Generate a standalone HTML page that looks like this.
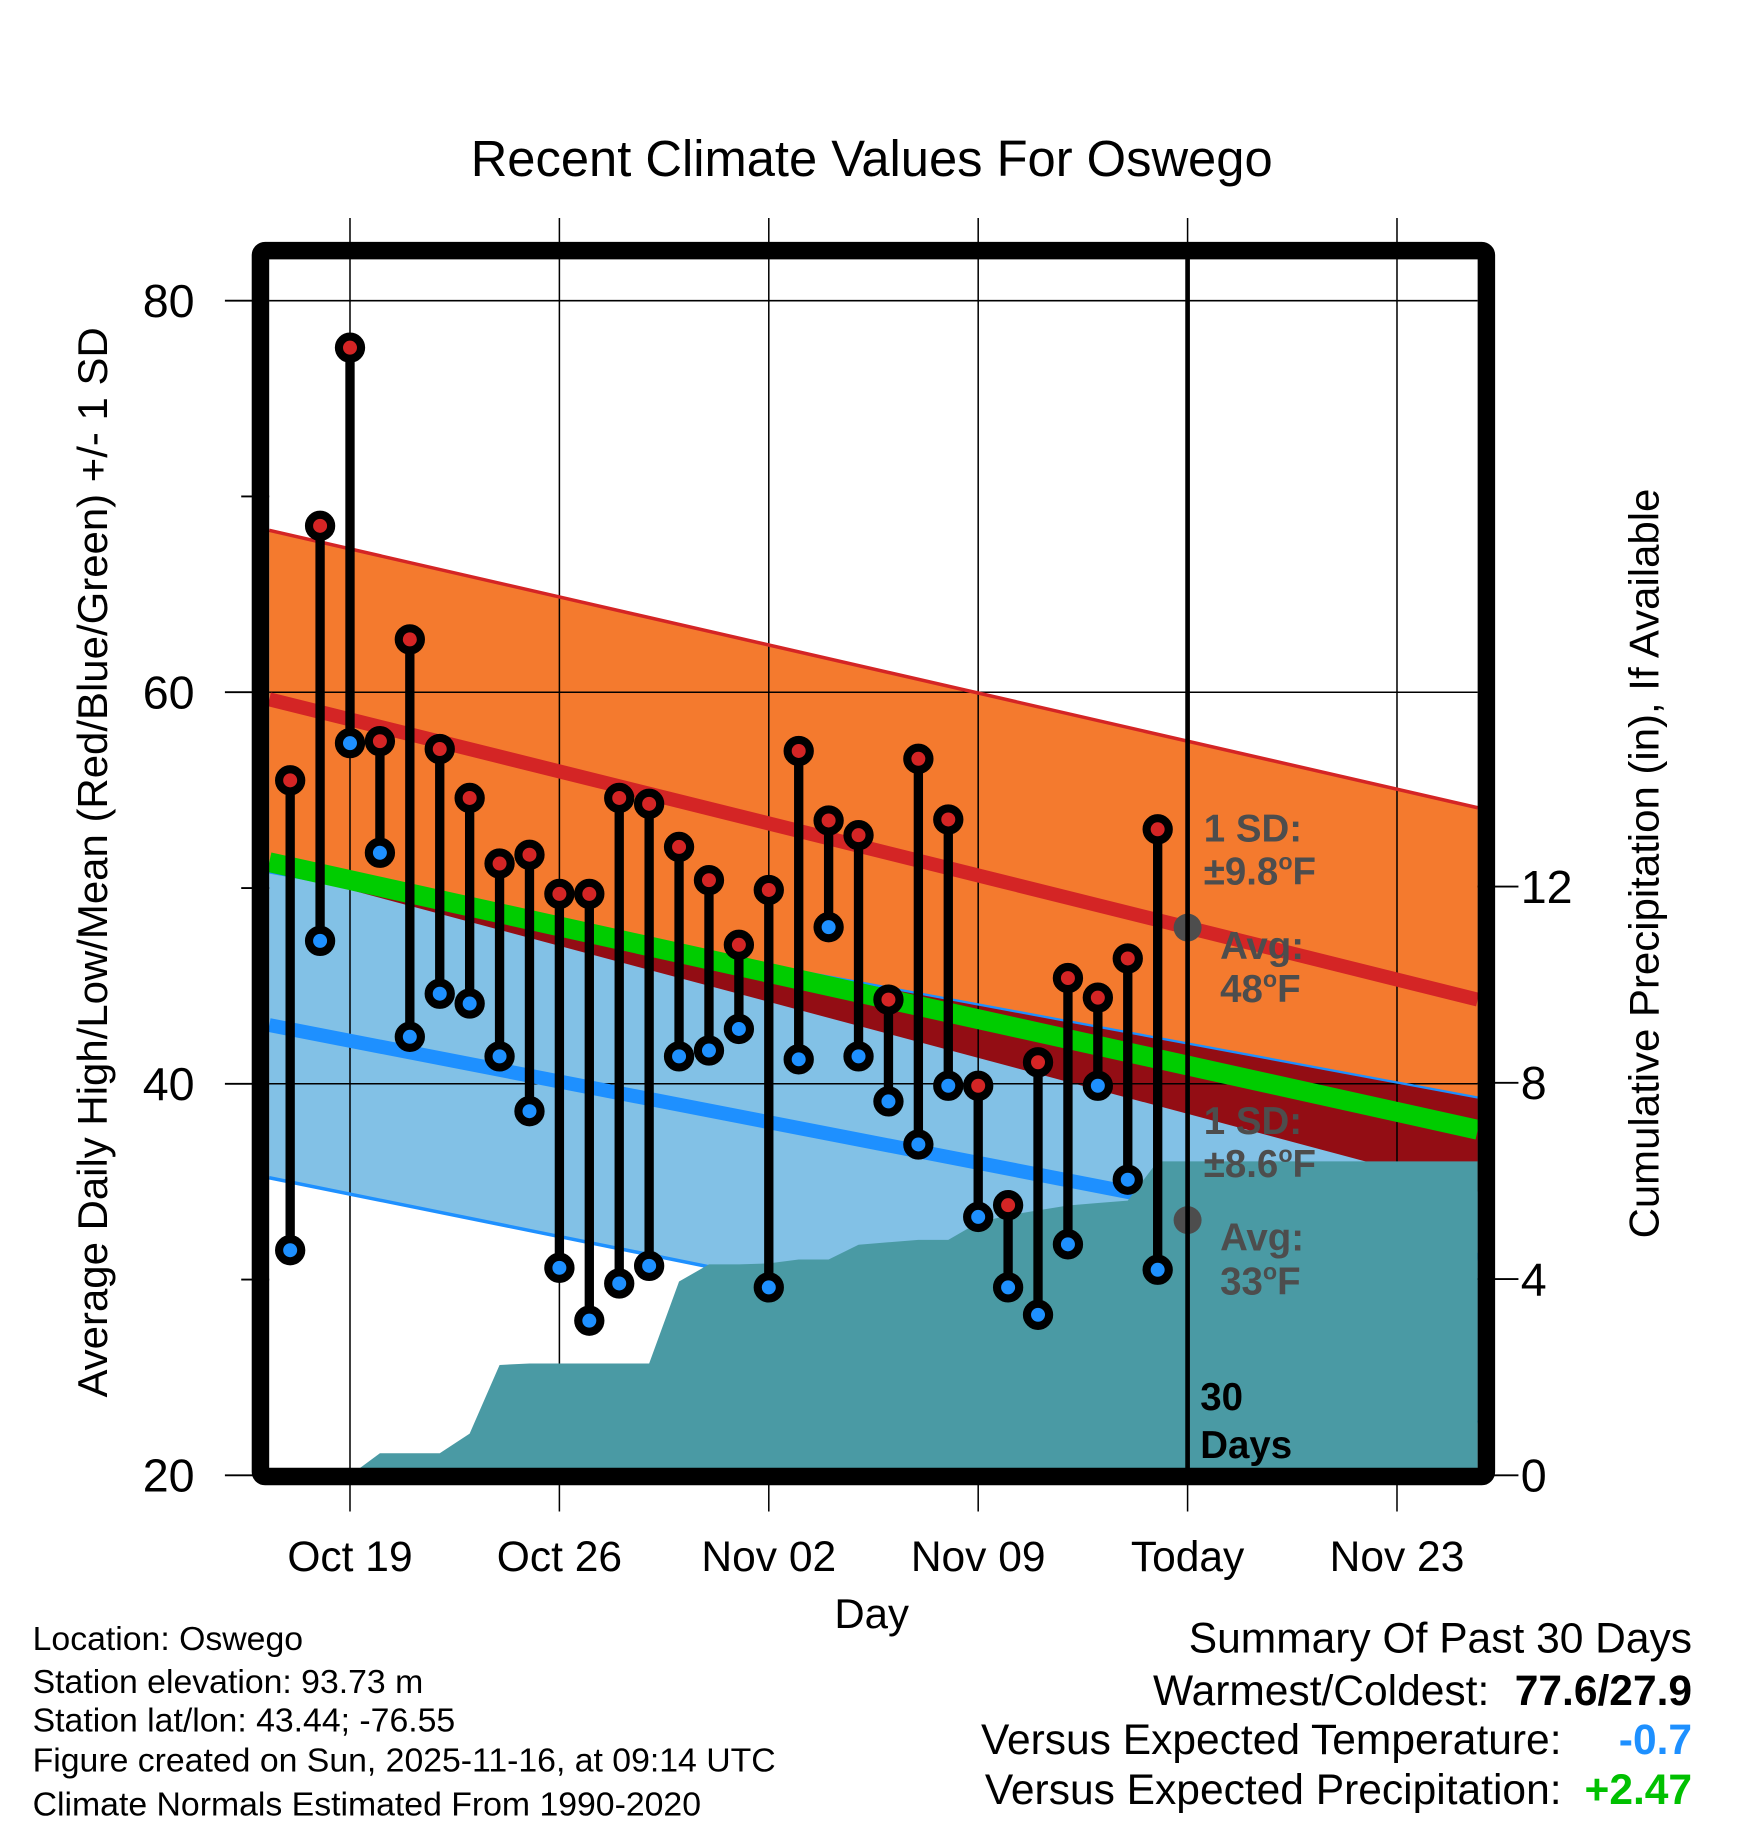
<!DOCTYPE html>
<html><head><meta charset="utf-8"><style>
html,body{margin:0;padding:0;background:#fff;}
svg{display:block;}
text{font-family:"Liberation Sans",sans-serif;}
</style></head><body>
<svg id="chart" width="1748" height="1828" viewBox="0 0 1500 1568.6" xmlns="http://www.w3.org/2000/svg">
<text x="748" y="151" font-size="43.5" text-anchor="middle">Recent Climate Values For Oswego</text>
<g id="bands"></g>
<g id="grid"></g>
<g id="normals"></g>
<g id="precip"></g>
<g id="annot"></g>
<g id="marks"></g>
<g id="axes"></g>
<text transform="translate(92,740) rotate(-90)" font-size="36" text-anchor="middle">Average Daily High/Low/Mean (Red/Blue/Green) +/- 1 SD</text>
<text transform="translate(1423,741) rotate(-90)" font-size="36" text-anchor="middle">Cumulative Precipitation (in), If Available</text>
<text x="748" y="1397" font-size="36" text-anchor="middle">Day</text>
<g font-size="29">
<text x="28" y="1416">Location: Oswego</text>
<text x="28" y="1453">Station elevation: 93.73 m</text>
<text x="28" y="1486">Station lat/lon: 43.44; -76.55</text>
<text x="28" y="1520">Figure created on Sun, 2025-11-16, at 09:14 UTC</text>
<text x="28" y="1558">Climate Normals Estimated From 1990-2020</text>
</g>
<g font-size="36.5" text-anchor="end">
<text x="1452" y="1418">Summary Of Past 30 Days</text>
<text x="1278" y="1463">Warmest/Coldest:</text>
<text x="1452" y="1463" font-weight="bold">77.6/27.9</text>
<text x="1340" y="1505">Versus Expected Temperature:</text>
<text x="1452" y="1505" font-weight="bold" fill="#1e90ff">-0.7</text>
<text x="1340" y="1548">Versus Expected Precipitation:</text>
<text x="1452" y="1548" font-weight="bold" fill="#00c000">+2.47</text>
</g>
</svg>
<script>
// ---- data ----
const highs=[55.5,68.5,77.6,57.5,62.7,57.1,54.6,51.25,51.7,49.7,49.7,54.6,54.3,52.1,50.4,47.1,49.9,57.0,53.45,52.7,44.3,56.6,53.5,39.9,33.8,41.1,45.4,44.4,46.4,53.0];
const lows=[31.5,47.3,57.4,51.8,42.4,44.6,44.1,41.4,38.6,30.6,27.9,29.8,30.7,41.4,41.7,42.8,29.6,41.25,48.0,41.4,39.1,36.9,39.9,33.2,29.6,28.2,31.8,39.9,35.1,30.5];
const precipCum=[0,0,0,0.45,0.45,0.45,0.85,2.25,2.28,2.28,2.28,2.28,2.28,3.95,4.3,4.3,4.32,4.4,4.4,4.7,4.75,4.8,4.8,5.15,5.3,5.4,5.5,5.55,5.6,6.4];
const normDays=[-0.7,39.7];
const hiNorm=[59.64,44.3];
const loNorm=[43.0,31.0];
const hiSD=[8.63,9.8];
const loSD=[7.8,8.3];
const xTickDays=[2,9,16,23,30,37];
const xTickLabels=["Oct 19","Oct 26","Nov 02","Nov 09","Today","Nov 23"];
const yTicks=[20,40,60,80];
const yMinor=[30,50,70];
const pTicks=[0,4,8,12];
// ---- scales ----
const X=d=>249+25.67*d;
const Y=t=>1266-(t-20)*16.8;
const P=p=>1266-p*42.1;
const L=231,R=1268,T=222,B=1260;
const NS="http://www.w3.org/2000/svg";
function mk(tag,parent,attrs){const e=document.createElementNS(NS,tag);for(const k in attrs)e.setAttribute(k,attrs[k]);document.getElementById(parent).appendChild(e);return e;}
function lerp(a,d){return a[0]+(a[1]-a[0])*(d-normDays[0])/(normDays[1]-normDays[0]);}
const d0=normDays[0],d1=normDays[1];
const f={hiP:d=>lerp(hiNorm,d)+lerp(hiSD,d),hi:d=>lerp(hiNorm,d),hiM:d=>lerp(hiNorm,d)-lerp(hiSD,d),
 loP:d=>lerp(loNorm,d)+lerp(loSD,d),lo:d=>lerp(loNorm,d),loM:d=>lerp(loNorm,d)-lerp(loSD,d),mean:d=>(lerp(hiNorm,d)+lerp(loNorm,d))/2};
function band(top,bot,fill,name,da,db){
 const pts=[[X(da),Y(top(da))],[X(db),Y(top(db))],[X(db),Y(bot(db))],[X(da),Y(bot(da))]];
 const e=mk('polygon','bands',{points:pts.map(p=>p.join(',')).join(' '),fill:fill});
 
 
}
band(f.hiP,f.hiM,'#f47a2e','high-sd-band',d0,d1);
band(f.loP,f.loM,'#82c1e6','low-sd-band',d0,d1);
const g0=f.loP(d0)-f.hiM(d0),g1=f.loP(d1)-f.hiM(d1);
if(g1>0||g0>0){let da=d0,db=d1;const c=d0+(d1-d0)*(-g0)/(g1-g0);if(g0<=0)da=c;else if(g1<=0)db=c;band(f.loP,f.hiM,'#930d14','sd-overlap-band',da,db);}
// grid
xTickDays.forEach(d=>{const e=mk('line','grid',{x1:X(d),x2:X(d),y1:187,y2:1297,stroke:'#000','stroke-width':1.3});
 
 });
yTicks.forEach(t=>{const e=mk('line','grid',{x1:193,x2:L,y1:Y(t),y2:Y(t),stroke:'#000','stroke-width':1.6});
 
 
 const g=mk('line','grid',{x1:L,x2:R,y1:Y(t),y2:Y(t),stroke:'#000','stroke-width':1.3});
 
 });
yMinor.forEach(t=>{const e=mk('line','grid',{x1:207,x2:L,y1:Y(t),y2:Y(t),stroke:'#000','stroke-width':1.6});
 
 });
pTicks.forEach(p=>{const e=mk('line','grid',{x1:R,x2:1303,y1:P(p),y2:P(p),stroke:'#000','stroke-width':1.6});
 
 });
function nline(fn,col,w,name){const e=mk('line','normals',{x1:X(d0),y1:Y(fn(d0)),x2:X(d1),y2:Y(fn(d1)),stroke:col,'stroke-width':w});
 
 }
nline(f.hiP,'#d42525',3,'high-plus-sd-line');
nline(f.loP,'#1e90ff',2,'low-plus-sd-line');
nline(f.loM,'#1e90ff',3,'low-minus-sd-line');
nline(f.hi,'#d42525',12,'normal-high-line');
nline(f.lo,'#1e90ff',12,'normal-low-line');
nline(f.mean,'#00cc00',17,'normal-mean-line');
// precip area
let pp=[[X(0),P(0)]];
precipCum.forEach((v,i)=>pp.push([X(i),P(v)]));
pp.push([R,P(precipCum[precipCum.length-1])]);pp.push([R,P(0)]);
const pa=mk('polygon','precip',{points:pp.map(p=>p.join(',')).join(' '),fill:'#4a9aa4'});


// annotations
const todayX=X(30);
[[796,'avg-high-dot'],[1047,'avg-low-dot']].forEach(([cy,n])=>{
 const e=mk('circle','annot',{cx:todayX,cy:cy,r:12,fill:'#4d4d4d'});
 
 });
function txt(x,y,s,name,col,sz){const e=mk('text','annot',{x:x,y:y,'font-size':sz||33,'font-weight':'bold',fill:col||'#4d4d4d'});e.innerHTML=s;
 
 }
const deg='<tspan dy="-13" font-size="20">o</tspan><tspan dy="13">F</tspan>';
txt(1033,722,'1 SD:','high-sd-label');
txt(1033,759,'±9.8'+deg,'high-sd-value');
txt(1047,823,'Avg:','high-avg-label');
txt(1047,860,'48'+deg,'high-avg-value');
txt(1033,973,'1 SD:','low-sd-label');
txt(1033,1010,'±8.6'+deg,'low-sd-value');
txt(1047,1073,'Avg:','low-avg-label');
txt(1047,1111,'33'+deg,'low-avg-value');
txt(1030,1210,'30','days-label','#000',33);
txt(1030,1251,'Days','days-label-2','#000',33);
const tl=mk('line','annot',{x1:todayX,x2:todayX,y1:T,y2:B,stroke:'#000','stroke-width':4});


// marks
highs.forEach((h,i)=>{
 const x=X(i),lo=lows[i];
 const s=mk('line','marks',{x1:x,x2:x,y1:Y(h),y2:Y(lo),stroke:'#000','stroke-width':8});
 
 
 const a=mk('circle','marks',{cx:x,cy:Y(h),r:9.5,fill:'#d42525',stroke:'#000','stroke-width':7});
 
 
 const b=mk('circle','marks',{cx:x,cy:Y(lo),r:9.5,fill:'#1e90ff',stroke:'#000','stroke-width':7});
 
 
});
const fr=mk('rect','axes',{x:223.5,y:215,width:1052,height:1052,fill:'none',stroke:'#000','stroke-width':15,rx:4});


yTicks.forEach(t=>{const e=mk('text','axes',{x:167,y:Y(t)+14,'font-size':40,'text-anchor':'end'});e.textContent=t;
 
 });
pTicks.forEach(p=>{const e=mk('text','axes',{x:1305,y:P(p)+14,'font-size':40});e.textContent=p;
 
 });
xTickDays.forEach((d,i)=>{const e=mk('text','axes',{x:X(d),y:1348,'font-size':36.5,'text-anchor':'middle'});e.textContent=xTickLabels[i];
 
 });
</script>
</body></html>
